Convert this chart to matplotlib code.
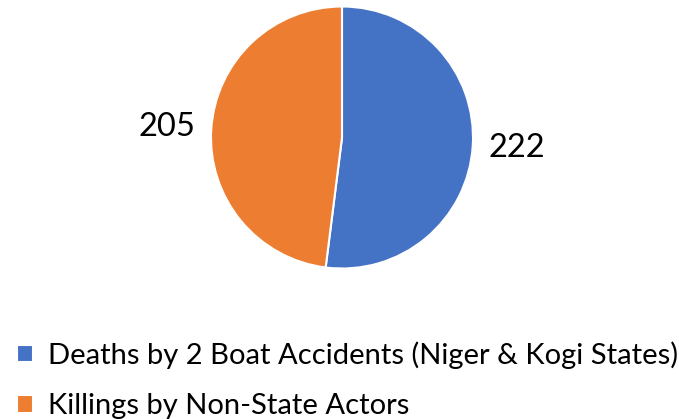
import matplotlib.pyplot as plt

# Data
categories = ['Deaths by 2 Boat Accidents (Niger & Kogi States)', 'Killings by Non-State Actors']
values = [222, 205]
colors = ['#4472C4', '#ED7D31']

plt.rcParams['font.family'] = ['Lato', 'DejaVu Sans']

W, H = 679, 419
fig = plt.figure(figsize=(W / 100, H / 100), dpi=100)

# pie area in pixels: centre (342, 137.5), radius 131
cx, cy, r = 342, 137.5, 131
ax = fig.add_axes([(cx - r) / W, (H - cy - r) / H, 2 * r / W, 2 * r / H])

wedges, texts = ax.pie(values, colors=colors, startangle=90, counterclock=False,
                       labels=[str(v) for v in values], labeldistance=1.34,
                       wedgeprops=dict(edgecolor='white', linewidth=1.5),
                       textprops=dict(fontsize=23.5, color='black'))
for t in texts:
    t.set_ha('center')
    t.set_va('center')

ax.set_xlim(-1, 1)
ax.set_ylim(-1, 1)
ax.set_aspect('equal')
ax.axis('off')

fig.legend(wedges, categories, loc='upper left', bbox_to_anchor=(17 / W, 1 - 341 / H),
           frameon=False, fontsize=21, handlelength=0.55, handleheight=0.55,
           handletextpad=0.5, labelspacing=0.85, borderaxespad=0, borderpad=0)

plt.savefig('out.png', dpi=100)
